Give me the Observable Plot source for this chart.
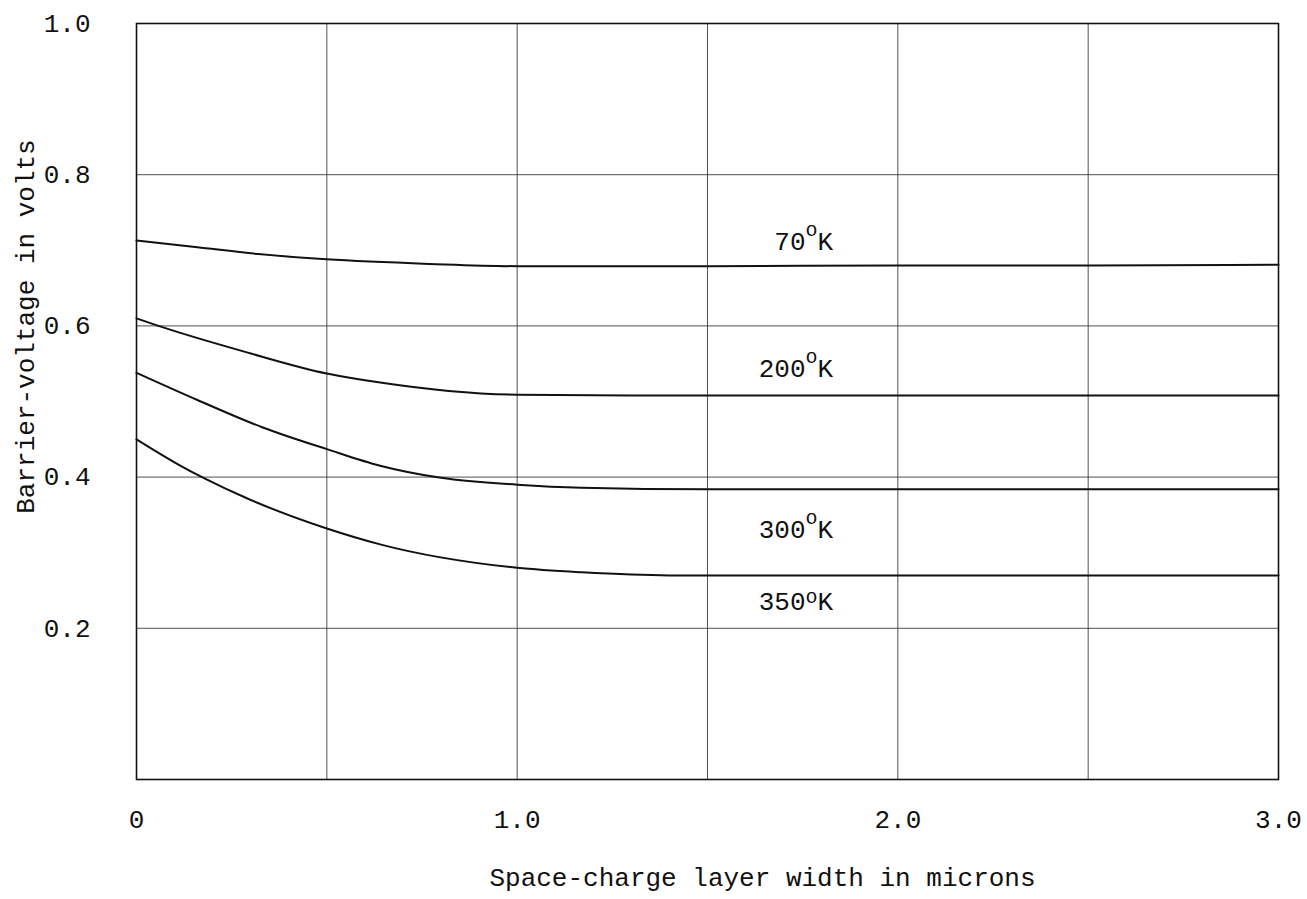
<!DOCTYPE html>
<html><head><meta charset="utf-8">
<script src="https://cdn.jsdelivr.net/npm/d3@7"></script>
<script src="https://cdn.jsdelivr.net/npm/@observablehq/plot@0.6"></script>
<style>body{margin:0;background:#fff} svg{display:block}</style>
</head><body><div id="chart"></div>
<script>
// Axis ticks and labels
const xTicks = [0, 1, 2, 3];
const xTickLabels = ["0", "1.0", "2.0", "3.0"];
const xGrid = [0.5, 1, 1.5, 2, 2.5];
const yTicks = [0.2, 0.4, 0.6, 0.8, 1.0];
const yTickLabels = ["0.2", "0.4", "0.6", "0.8", "1.0"];
const yGrid = [0.2, 0.4, 0.6, 0.8];
const xTitle = "Space-charge layer width in microns";
const yTitle = "Barrier-voltage in volts";

// Series (layer width in microns, barrier voltage in volts)
const series = ["70°K", "200°K", "300°K", "350°K"];
const w70 = [0, 0.16, 0.32, 0.5, 0.77, 1.0, 1.5, 2.0, 2.5, 3.0];
const v70 = [0.713, 0.704, 0.695, 0.688, 0.682, 0.679, 0.679, 0.680, 0.680, 0.681];
const w200 = [0, 0.07, 0.29, 0.5, 0.64, 0.82, 1.0, 1.3, 2.0, 3.0];
const v200 = [0.610, 0.598, 0.565, 0.537, 0.525, 0.514, 0.509, 0.508, 0.508, 0.508];
const w300 = [0, 0.16, 0.33, 0.5, 0.64, 0.8, 1.0, 1.17, 1.5, 2.0, 3.0];
const v300 = [0.538, 0.502, 0.466, 0.437, 0.415, 0.399, 0.390, 0.386, 0.384, 0.384, 0.384];
const w350 = [0, 0.116, 0.18, 0.29, 0.5, 0.64, 1.0, 1.17, 1.4, 2.0, 3.0];
const v350 = [0.450, 0.415, 0.398, 0.372, 0.332, 0.311, 0.280, 0.274, 0.270, 0.270, 0.270];

// Curve label anchors (data coordinates, text ends here)
const labelW = [1.83, 1.83, 1.83, 1.83];
const labelV = [0.700, 0.532, 0.319, 0.224];

const widths = [w70, w200, w300, w350];
const volts = [v70, v200, v300, v350];
const rows = series.flatMap((s, k) => widths[k].map((w, i) => ({series: s, w, v: volts[k][i]})));
const labels = series.map((s, k) => ({label: s, w: labelW[k], v: labelV[k]}));
const xFmt = new Map(xTicks.map((t, i) => [t, xTickLabels[i]]));
const yFmt = new Map(yTicks.map((t, i) => [t, yTickLabels[i]]));

const font = "'Liberation Mono', 'DejaVu Sans Mono', monospace";
const plot = Plot.plot({
  width: 1307, height: 899,
  marginLeft: 136, marginRight: 29, marginTop: 23, marginBottom: 120,
  x: {domain: [0, 3]},
  y: {domain: [0, 1]},
  style: {fontFamily: font, fontSize: "26px", background: "#fff", color: "#111"},
  marks: [
    Plot.gridX(xGrid, {stroke: "#333", strokeOpacity: 0.85, strokeWidth: 1}),
    Plot.gridY(yGrid, {stroke: "#333", strokeOpacity: 0.85, strokeWidth: 1}),
    Plot.frame({stroke: "#111", strokeWidth: 1.6}),
    Plot.axisX(xTicks, {tickFormat: d => xFmt.get(d), tickSize: 0, tickPadding: 30, fontSize: 26, label: null}),
    Plot.axisY(yTicks, {tickFormat: d => yFmt.get(d), tickSize: 0, tickPadding: 46, fontSize: 26, label: null}),
    Plot.line(rows, {x: "w", y: "v", z: "series", curve: "monotone-x", stroke: "#111", strokeWidth: 2}),
    Plot.text(labels, {x: "w", y: "v", text: "label", textAnchor: "end", lineAnchor: "bottom", fontSize: 26, fill: "#111", className: "temp"}),
    Plot.text([xTitle], {frameAnchor: "bottom", textAnchor: "middle", lineAnchor: "bottom", dx: 55, dy: 106, fontSize: 26, fill: "#111"}),
    Plot.text([yTitle], {frameAnchor: "left", textAnchor: "middle", rotate: -90, lineAnchor: "bottom", dx: -103, dy: -75, fontSize: 26, fill: "#111"})
  ]
});
document.getElementById("chart").appendChild(plot);

// Render the degree marks as raised small "o" like the typewritten original
d3.select(plot).selectAll(".temp text").each(function() {
  const t = this.textContent;
  const [num, rest] = t.split("°");
  const raise = num === "350" ? 7 : 14;
  const el = d3.select(this);
  el.text(null);
  el.append("tspan").text(num);
  el.append("tspan").attr("dy", -raise).attr("font-size", 20).text("o");
  el.append("tspan").attr("dy", raise).text(rest);
});
</script>
</body></html>
